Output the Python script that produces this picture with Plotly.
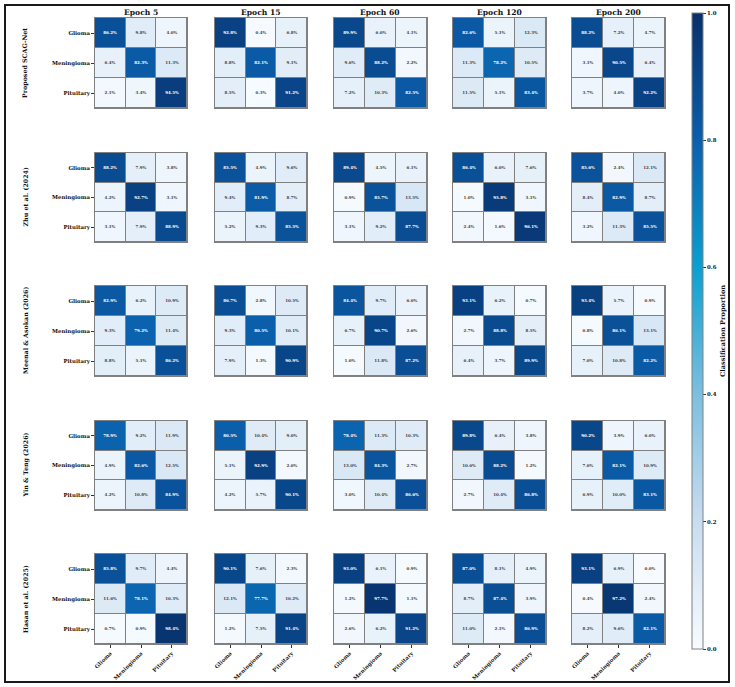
import plotly.graph_objects as go

# ---------------- data ----------------
epochs = ["Epoch 5", "Epoch 15", "Epoch 60", "Epoch 120", "Epoch 200"]
classes = ["Glioma", "Meningioma", "Pituitary"]
models = ["Proposed SCAG-Net", "Zhu et al. (2024)", "Meenal & Asokan (2026)",
          "Yin & Teng (2026)", "Hasan et al. (2025)"]

# each entry: one 3x3 confusion matrix (rows = true, cols = predicted), in %
scag_net = [
    [[86.2, 9.8, 4.0], [6.4, 82.3, 11.3], [2.1, 3.4, 94.5]],
    [[92.8, 0.4, 6.8], [8.8, 82.1, 9.1], [8.5, 0.3, 91.2]],
    [[89.9, 6.0, 4.1], [9.6, 88.2, 2.2], [7.2, 10.3, 82.5]],
    [[82.6, 5.1, 12.3], [11.3, 78.2, 10.5], [11.5, 5.1, 83.4]],
    [[88.2, 7.2, 4.7], [3.1, 90.5, 6.4], [3.7, 4.0, 92.2]],
]
zhu_2024 = [
    [[88.2, 7.9, 3.8], [4.2, 92.7, 3.1], [3.1, 7.9, 88.9]],
    [[85.5, 4.9, 9.6], [9.4, 81.9, 8.7], [5.2, 9.3, 85.5]],
    [[89.4, 4.5, 6.1], [0.9, 85.7, 13.5], [3.1, 9.2, 87.7]],
    [[86.4, 6.0, 7.6], [1.0, 95.8, 3.1], [2.4, 1.6, 96.1]],
    [[85.6, 2.4, 12.1], [8.4, 82.9, 8.7], [3.2, 11.3, 85.5]],
]
meenal_2026 = [
    [[82.9, 6.2, 10.9], [9.3, 79.2, 11.4], [8.8, 5.1, 86.2]],
    [[86.7, 2.8, 10.5], [9.3, 80.5, 10.1], [7.9, 1.3, 90.9]],
    [[84.4, 9.7, 6.0], [6.7, 90.7, 2.6], [1.0, 11.8, 87.2]],
    [[93.1, 6.2, 0.7], [2.7, 88.8, 8.5], [6.4, 3.7, 89.9]],
    [[93.4, 5.7, 0.9], [0.8, 86.1, 13.1], [7.0, 10.8, 82.2]],
]
yin_2026 = [
    [[78.9, 9.2, 11.9], [4.9, 82.6, 12.5], [4.2, 10.8, 84.9]],
    [[80.5, 10.4, 9.0], [5.1, 92.9, 2.0], [4.2, 5.7, 90.1]],
    [[78.4, 11.3, 10.3], [13.0, 84.3, 2.7], [3.0, 10.4, 86.6]],
    [[89.8, 6.4, 3.8], [10.6, 88.2, 1.2], [2.7, 10.4, 86.8]],
    [[90.2, 3.9, 6.0], [7.0, 82.1, 10.9], [6.9, 10.0, 83.1]],
]
hasan_2025 = [
    [[85.8, 9.7, 4.4], [11.6, 78.1, 10.3], [0.7, 0.9, 98.4]],
    [[90.1, 7.6, 2.3], [12.1, 77.7, 10.2], [1.2, 7.5, 91.4]],
    [[93.0, 6.1, 0.9], [1.2, 97.7, 1.1], [2.6, 6.2, 91.2]],
    [[87.0, 8.1, 4.9], [8.7, 87.4, 3.9], [11.0, 2.1, 86.9]],
    [[93.1, 6.9, 0.0], [0.4, 97.2, 2.4], [8.2, 9.6, 82.1]],
]
all_models = [scag_net, zhu_2024, meenal_2026, yin_2026, hasan_2025]

cbar_ticks = [0.0, 0.2, 0.4, 0.6, 0.8, 1.0]

# ---------------- layout geometry (pixels) ----------------
W, H = 735, 687
col_px = [(95, 187), (215, 307), (334, 427), (453, 546), (572, 665)]
row_px = [(18, 108), (153, 242), (286, 376), (421, 510), (554, 644)]

FONT = "DejaVu Serif"
colorscale = [[0.0, "#f7fbff"], [0.2, "#c8ddf0"], [0.4, "#7cbfdf"],
              [0.6, "#0aa0d2"], [0.8, "#0b5fac"], [1.0, "#08306b"]]

fig = go.Figure()
layout_axes = {}
idx = [0, 1, 2]

for r, model in enumerate(all_models):
    for c, mat in enumerate(model):
        k = r * 5 + c + 1
        xs = "x" if k == 1 else f"x{k}"
        ys = "y" if k == 1 else f"y{k}"
        z = [[v / 100.0 for v in row] for row in mat]
        txt = [[f"{v:.1f}%" for v in row] for row in mat]
        fig.add_trace(go.Heatmap(
            z=z, x=idx, y=idx, text=txt, texttemplate="%{text}",
            textfont=dict(family=FONT, size=4, weight="bold"),
            coloraxis="coloraxis", xgap=1, ygap=1,
            xaxis=xs, yaxis=ys, hoverinfo="skip"))
        x0, x1 = col_px[c]
        y0, y1 = row_px[r]
        bottom = (r == len(all_models) - 1)
        left = (c == 0)
        layout_axes["xaxis" if k == 1 else f"xaxis{k}"] = dict(
            domain=[x0 / W, x1 / W], anchor=ys, range=[-0.5, 2.5],
            showgrid=False, zeroline=False, showline=True, mirror=True,
            linecolor="#808080", linewidth=1,
            tickmode="array", tickvals=idx, ticktext=classes,
            showticklabels=bottom, ticks="outside" if bottom else "",
            ticklen=3, tickcolor="#333333", tickangle=-45,
            tickfont=dict(family=FONT, size=5.4, weight="bold", color="#111111"),
            fixedrange=True)
        layout_axes["yaxis" if k == 1 else f"yaxis{k}"] = dict(
            domain=[1 - y1 / H, 1 - y0 / H], anchor=xs, range=[2.5, -0.5],
            showgrid=False, zeroline=False, showline=True, mirror=True,
            linecolor="#808080", linewidth=1,
            tickmode="array", tickvals=idx, ticktext=classes,
            showticklabels=left, ticks="outside" if left else "",
            ticklen=3, tickcolor="#333333",
            tickfont=dict(family=FONT, size=5.4, weight="bold", color="#111111"),
            fixedrange=True)

annotations = []
for c, ep in enumerate(epochs):
    x0, x1 = col_px[c]
    annotations.append(dict(
        text=ep, x=(x0 + x1) / 2 / W, y=1 - 12 / H, xref="paper", yref="paper",
        showarrow=False, xanchor="center", yanchor="middle",
        font=dict(family=FONT, size=7.6, weight="bold", color="#111111")))
for r, name in enumerate(models):
    y0, y1 = row_px[r]
    annotations.append(dict(
        text=name, x=25 / W, y=1 - (y0 + y1) / 2 / H, xref="paper", yref="paper",
        showarrow=False, textangle=-90, xanchor="center", yanchor="middle",
        font=dict(family=FONT, size=6.3, weight="bold", color="#111111")))
annotations.append(dict(
    text="Classification Proportion", x=723 / W, y=1 - 331 / H,
    xref="paper", yref="paper", showarrow=False, textangle=-90,
    xanchor="center", yanchor="middle",
    font=dict(family=FONT, size=6.6, weight="bold", color="#111111")))

fig.update_layout(
    width=W, height=H,
    margin=dict(l=0, r=0, t=0, b=0),
    paper_bgcolor="white", plot_bgcolor="#808080",
    showlegend=False,
    coloraxis=dict(
        colorscale=colorscale, cmin=0, cmax=1, showscale=True,
        colorbar=dict(
            x=692 / W, xanchor="left", y=1 - 13 / H, yanchor="top",
            len=636 / H, lenmode="fraction", thickness=11,
            xpad=0, ypad=0, outlinewidth=1, outlinecolor="#808080",
            ticks="outside", ticklen=3, tickcolor="#333333",
            tickmode="array", tickvals=cbar_ticks,
            ticktext=[f"{t:.1f}" for t in cbar_ticks],
            tickfont=dict(family=FONT, size=5.4, weight="bold", color="#111111"))),
    annotations=annotations,
    shapes=[dict(type="rect", xref="paper", yref="paper",
                 x0=5 / W, x1=729 / W, y0=1 - 682 / H, y1=1 - 5 / H,
                 line=dict(color="#1a1a1a", width=2), fillcolor="rgba(0,0,0,0)")],
    **layout_axes,
)

fig.write_html("out.html")
